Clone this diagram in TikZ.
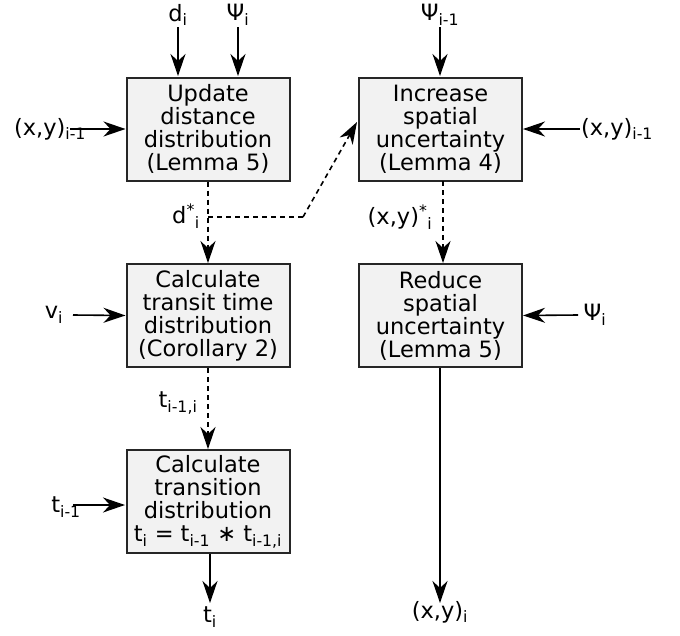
\documentclass[tikz,border=0pt]{standalone}
\usepackage{fontspec}
\setmainfont{DejaVu Sans}
\usetikzlibrary{arrows.meta}
\begin{document}
\begin{tikzpicture}[x=1pt,y=-1pt,
  box/.style={draw=black!85, line width=2pt, fill=black!5, minimum width=163pt, minimum height=103pt, inner sep=0pt, align=center, font=\fontsize{22.5}{23}\selectfont},
  lbl/.style={inner sep=0pt, font=\fontsize{22.5}{23}\selectfont},
  arr/.style={line width=1.6pt, -{Stealth[length=22pt,width=15pt,inset=7pt]}},
  darr/.style={arr, dash pattern=on 5pt off 4pt},
  dline/.style={line width=1.6pt, dash pattern=on 5pt off 4pt},
]
\useasboundingbox (0,0) rectangle (680,635);
% boxes
\node[box] (b1) at (208,129) {Update\\distance\\distribution\\(Lemma 5)};
\node[box] (b2) at (440.5,129) {Increase\\spatial\\uncertainty\\(Lemma 4)};
\node[box] (b3) at (208,315.5) {Calculate\\transit time\\distribution\\(Corollary 2)};
\node[box] (b4) at (440.5,315.5) {Reduce\\spatial\\uncertainty\\(Lemma 5)};
\node[box] (b5) at (208,501.5) {Calculate\\transition\\distribution\\t\textsubscript{i} = t\textsubscript{i-1} ∗ t\textsubscript{i-1,i}};
% input labels
\node[lbl] (di) at (178,15) {d\textsubscript{i}};
\node[lbl] (psii) at (238,15) {Ψ\textsubscript{i}};
\node[lbl] (psiim) at (440,15) {Ψ\textsubscript{i-1}};
\node[lbl] (xyl) at (50,129) {(x,y)\textsubscript{i-1}};
\node[lbl] (xyr) at (617,129) {(x,y)\textsubscript{i-1}};
\node[lbl] (vi) at (54,315) {v\textsubscript{i}};
\node[lbl] (psir) at (595,315) {Ψ\textsubscript{i}};
\node[lbl] (tim) at (66,507) {t\textsubscript{i-1}};
\node[lbl] (dstar) at (186,216) {d\textsuperscript{*}\textsubscript{i}};
\node[lbl] (xystar) at (400,217) {(x,y)\textsuperscript{*}\textsubscript{i}};
\node[lbl] (tii) at (178,403) {t\textsubscript{i-1,i}};
\node[lbl] (ti) at (210,617) {t\textsubscript{i}};
\node[lbl] (xyi) at (440,612) {(x,y)\textsubscript{i}};
% coordinates
\coordinate (c1) at (70,129);
\coordinate (c2) at (73,505);
\coordinate (br) at (208,217);
\coordinate (kn) at (303,217);
\coordinate (b2in) at (357,122);
% connectors
\draw[arr] (178,27) -- (178,76);
\draw[arr] (238,27) -- (238,76);
\draw[arr] (440,27) -- (440,76);
\draw[arr] (c1) -- (b1.west);
\draw[arr] (580,129) -- (b2.east);
\draw[arr] (73,315) -- (b3.west);
\draw[arr] (578,315) -- (b4.east);
\draw[arr] (c2) -- (125,505);
\draw[darr] (b1.south) -- (b3.north);
\draw[dline] (br) -- (kn);
\draw[darr] (kn) -- (b2in);
\draw[darr] (443,181) -- (443,263);
\draw[darr] (b3.south) -- (b5.north);
\draw[arr] (210,554) -- (210,603);
\draw[arr] (440,368) -- (440,603);
\end{tikzpicture}
\end{document}
